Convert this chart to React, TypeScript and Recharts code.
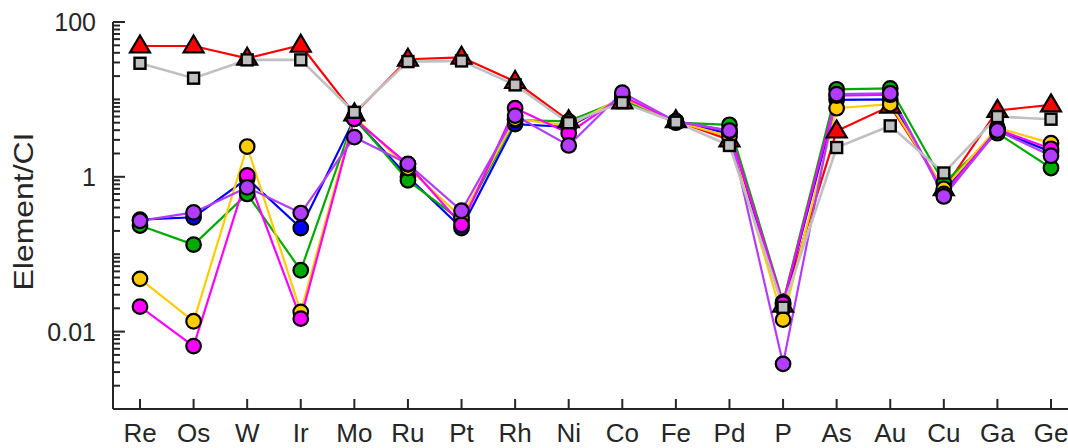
import React from "react";
import { LineChart, Line, XAxis, YAxis } from "recharts";

// CI-normalised abundances
const elements = ["Re", "Os", "W", "Ir", "Mo", "Ru", "Pt", "Rh", "Ni", "Co", "Fe", "Pd", "P", "As", "Au", "Cu", "Ga", "Ge"];

const redValues = [49, 49, 34, 50, 6.5, 33, 35, 17, 5.3, 9.3, 5.3, 3.0, 0.022, 3.9, 8.2, 0.7, 7.2, 8.5];
const grayValues = [29.3, 18.8, 32.4, 32.4, 6.8, 30.8, 31.4, 15.4, 5.0, 9.1, 5.08, 2.54, 0.0206, 2.39, 4.55, 1.12, 6.0, 5.55];
const blueValues = [0.28, 0.3, 0.95, 0.218, 5.6, 1.0, 0.218, 4.8, 4.4, 10.5, 5.2, 3.6, 0.022, 9.86, 10, 0.65, 4.0, 2.1];
const greenValues = [0.235, 0.133, 0.6, 0.062, 5.8, 0.9, 0.27, 5.4, 5.2, 10, 5.0, 4.7, 0.024, 13.5, 13.9, 0.83, 3.66, 1.3];
const yellowValues = [0.048, 0.0136, 2.46, 0.018, 6.0, 1.3, 0.3, 5.6, 4.6, 10.5, 5.2, 3.3, 0.0143, 7.7, 8.67, 0.7, 4.3, 2.72];
const magentaValues = [0.021, 0.0065, 1.04, 0.0147, 5.6, 1.45, 0.24, 7.7, 3.66, 11, 5.2, 3.9, 0.023, 11.2, 11.5, 0.6, 4.1, 2.3];
const purpleValues = [0.27, 0.347, 0.73, 0.34, 3.25, 1.47, 0.364, 6.18, 2.54, 12.2, 5.2, 3.96, 0.00383, 11.7, 12.0, 0.557, 3.96, 1.87];

const yLabelled = [100, 1, 0.01];

const data = elements.map((el, i) => ({
  el,
  red: redValues[i],
  gray: grayValues[i],
  blue: blueValues[i],
  green: greenValues[i],
  yellow: yellowValues[i],
  magenta: magentaValues[i],
  purple: purpleValues[i],
}));

// log ticks: 1..9 per decade
const yTicks: number[] = [];
for (let d = -3; d < 2; d++) {
  for (let m = 1; m < 10; m++) yTicks.push(+(m * Math.pow(10, d)).toPrecision(3));
}
yTicks.push(100);

const INK = "#262626";
const FONT = "'Liberation Sans', Arial, sans-serif";

const isLabelled = (v: number) => yLabelled.some((t) => Math.abs(Math.log10(v) - Math.log10(t)) < 1e-6);

const YTick = (props: any) => {
  const { x, y, payload } = props;
  const v = payload.value;
  const major = isLabelled(v);
  return (
    <g>
      <line x1={x} x2={x + (major ? 12 : 7)} y1={y} y2={y} stroke={INK} strokeWidth={2} />
      {major && (
        <text x={x - 17} y={y} dy="0.36em" textAnchor="end" fontSize={25} fontFamily={FONT} fill={INK}>
          {v}
        </text>
      )}
    </g>
  );
};

const XTick = (props: any) => {
  const { x, y, payload } = props;
  return (
    <g>
      <line x1={x} x2={x} y1={y} y2={y - 10} stroke={INK} strokeWidth={2} />
      <text x={x} y={y + 33} textAnchor="middle" fontSize={26} fontFamily={FONT} fill={INK}>
        {payload.value}
      </text>
    </g>
  );
};

const TopTick = (props: any) => {
  const { x, y } = props;
  return <line x1={x} x2={x} y1={y} y2={y + 10} stroke={INK} strokeWidth={2} />;
};

const YLabel = (props: any) => {
  const { viewBox } = props;
  const cx = viewBox.x + 33;
  const cy = viewBox.y + viewBox.height / 2 - 4;
  return (
    <text
      x={cx}
      y={cy}
      textAnchor="middle"
      transform={`rotate(-90, ${cx}, ${cy})`}
      fontSize={28}
      fontFamily={FONT}
      fill={INK}
      textLength={158}
      lengthAdjust="spacingAndGlyphs"
    >
      Element/CI
    </text>
  );
};

const circleDot = (fill: string) => (props: any) => {
  const { cx, cy, index } = props;
  return <circle key={index} cx={cx} cy={cy} r={7.3} fill={fill} stroke="#000" strokeWidth={2.2} />;
};

const triangleDot = (props: any) => {
  const { cx, cy, index } = props;
  const h = 17;
  const w = 20;
  return (
    <path
      key={index}
      d={`M${cx},${cy - h * 0.62} L${cx + w / 2},${cy + h * 0.38} L${cx - w / 2},${cy + h * 0.38} Z`}
      fill="#ff0000"
      stroke="#000"
      strokeWidth={2.2}
      strokeLinejoin="miter"
    />
  );
};

const squareDot = (props: any) => {
  const { cx, cy, index } = props;
  const s = 11;
  return <rect key={index} x={cx - s / 2} y={cy - s / 2} width={s} height={s} fill="#bfbfbf" stroke="#000" strokeWidth={2.4} />;
};

const circleSeries = [
  { key: "blue", color: "#0000ff" },
  { key: "green", color: "#00aa00" },
  { key: "yellow", color: "#ffcc00" },
  { key: "magenta", color: "#ff00ff" },
  { key: "purple", color: "#b23cff" },
];

export default function App() {
  return (
    <div style={{ position: "absolute", left: 0, top: 0, width: 1068, height: 448, overflow: "hidden", background: "#fff" }}>
      <LineChart width={1090} height={448} data={data} margin={{ top: 22, right: 12, left: 0, bottom: 0 }}>
        <XAxis
          dataKey="el"
          interval={0}
          padding={{ left: 27, right: 27 }}
          height={39}
          tickSize={0}
          tickMargin={0}
          tick={<XTick />}
          axisLine={{ stroke: INK, strokeWidth: 2 }}
          tickLine={false}
        />
        <XAxis
          xAxisId="top"
          orientation="top"
          dataKey="el"
          interval={0}
          padding={{ left: 27, right: 27 }}
          height={0}
          tickSize={0}
          tickMargin={0}
          tick={<TopTick />}
          axisLine={{ stroke: INK, strokeWidth: 2 }}
          tickLine={false}
        />
        <YAxis
          type="number"
          scale="log"
          domain={[0.001, 100]}
          allowDataOverflow
          ticks={yTicks}
          interval={0}
          width={113}
          tickSize={0}
          tickMargin={0}
          tick={<YTick />}
          tickLine={false}
          axisLine={{ stroke: INK, strokeWidth: 2 }}
          label={<YLabel />}
        />
        <Line dataKey="red" stroke="#ff0000" strokeWidth={2.2} type="linear" dot={triangleDot} activeDot={false} isAnimationActive={false} />
        {circleSeries.map((s) => (
          <Line
            key={s.key}
            dataKey={s.key}
            stroke={s.color}
            strokeWidth={2.2}
            type="linear"
            dot={circleDot(s.color)}
            activeDot={false}
            isAnimationActive={false}
          />
        ))}
        <Line dataKey="gray" stroke="#c0c0c0" strokeWidth={2.6} type="linear" dot={squareDot} activeDot={false} isAnimationActive={false} />
      </LineChart>
    </div>
  );
}
